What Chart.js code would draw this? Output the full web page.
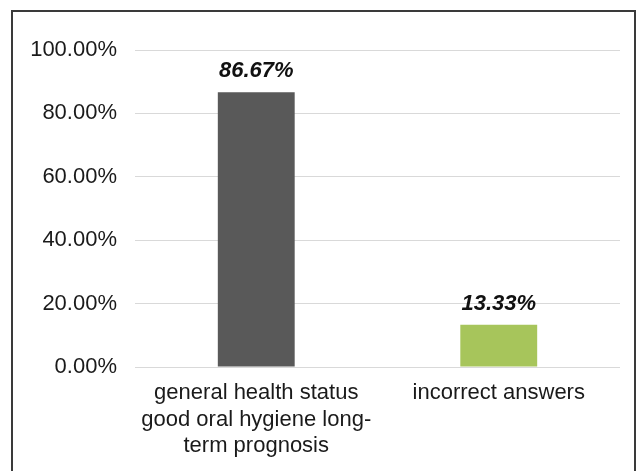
<!DOCTYPE html>
<html>
<head>
<meta charset="utf-8">
<script src="https://cdn.jsdelivr.net/npm/chart.js@4/dist/chart.umd.min.js"></script>
<style>
  html, body { margin: 0; padding: 0; background: #ffffff; }
  body { width: 642px; height: 471px; position: relative; overflow: hidden; }
  .frame {
    position: absolute; left: 11px; top: 10px;
    width: 625px; height: 480px;
    border: 2px solid #3a3a3a;
    box-sizing: border-box;
  }
  #chart { position: absolute; left: 0; top: 0; }
</style>
</head>
<body>
<div class="frame"></div>
<canvas id="chart" width="642" height="471"></canvas>
<script>
// Answers grouped by category (percent of respondents)
const categories = [
  ["general health status", "good oral hygiene long-", "term prognosis"],
  ["incorrect answers"]
];
const percentages = [86.67, 13.33];
const barColors = ["#595959", "#a7c55b"];
const yTicks = [0, 20, 40, 60, 80, 100];

const fmtPct = v => Number(v).toFixed(2) + "%";

// Bold italic value above each bar
const valueLabels = {
  id: "valueLabels",
  afterDatasetsDraw(chart) {
    const ctx = chart.ctx;
    const meta = chart.getDatasetMeta(0);
    ctx.save();
    ctx.font = "italic bold 22px 'Liberation Sans', Arial, sans-serif";
    ctx.fillStyle = "#111111";
    ctx.textAlign = "center";
    ctx.textBaseline = "alphabetic";
    meta.data.forEach((bar, i) => {
      ctx.fillText(fmtPct(chart.data.datasets[0].data[i]), bar.x, bar.y - 15);
    });
    ctx.restore();
  }
};

new Chart(document.getElementById("chart"), {
  type: "bar",
  data: {
    labels: categories,
    datasets: [{
      data: percentages,
      backgroundColor: barColors,
      borderWidth: 0,
      categoryPercentage: 1,
      barPercentage: 0.317
    }]
  },
  options: {
    responsive: false,
    animation: false,
    devicePixelRatio: 1,
    layout: { padding: { top: 50, right: 22, bottom: 0, left: 0 } },
    plugins: { legend: { display: false }, tooltip: { enabled: false } },
    scales: {
      x: {
        grid: { display: false, drawTicks: false },
        border: { display: false },
        ticks: {
          color: "#1a1a1a",
          padding: 13,
          maxRotation: 0,
          autoSkip: false,
          font: { family: "'Liberation Sans', Arial, sans-serif", size: 22, lineHeight: 1.2 }
        },
        afterFit(s) { s.height = 104; }
      },
      y: {
        min: yTicks[0],
        max: yTicks[yTicks.length - 1],
        afterBuildTicks(s) { s.ticks = yTicks.map(v => ({ value: v })); },
        grid: { color: "#d9d9d9", lineWidth: 1, drawTicks: false },
        border: { display: false },
        ticks: {
          color: "#1a1a1a",
          padding: 18,
          font: { family: "'Liberation Sans', Arial, sans-serif", size: 22 },
          callback: v => fmtPct(v)
        },
        afterFit(s) { s.width = 135; }
      }
    }
  },
  plugins: [valueLabels]
});
</script>
</body>
</html>
